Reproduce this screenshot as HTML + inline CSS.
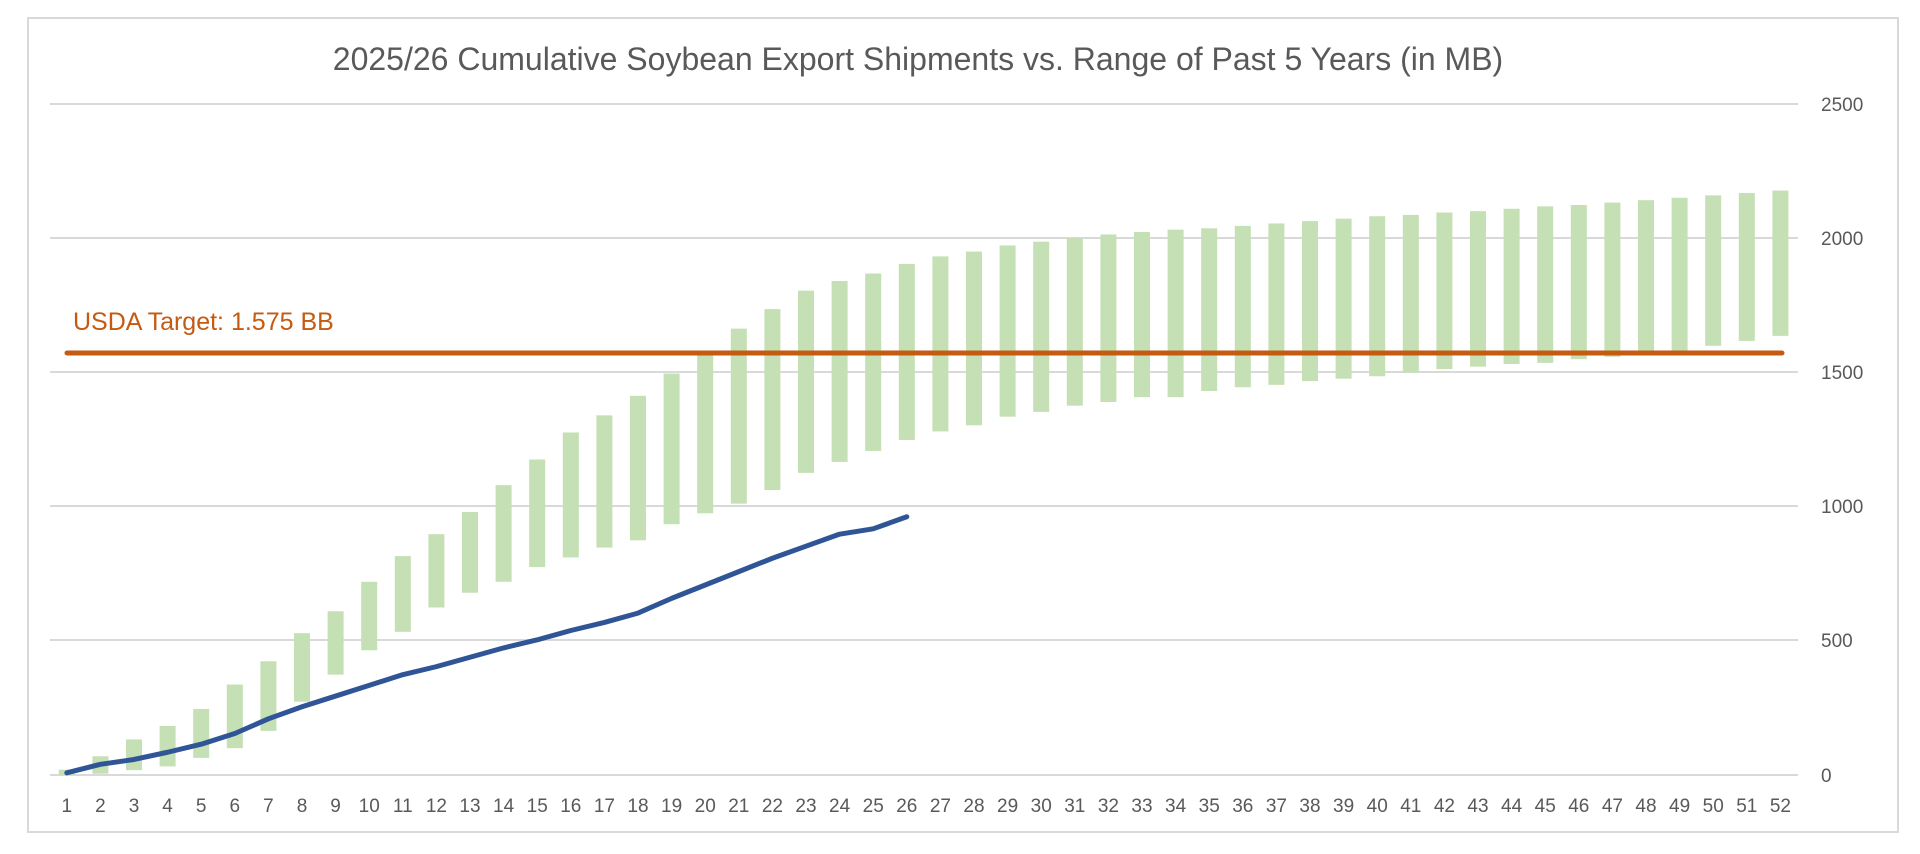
<!DOCTYPE html>
<html><head><meta charset="utf-8"><style>
html,body{margin:0;padding:0;background:#fff;width:1920px;height:854px;overflow:hidden}
</style></head><body>
<svg id="s" width="1920" height="854" xmlns="http://www.w3.org/2000/svg" font-family="Liberation Sans, sans-serif">
<rect x="28" y="18" width="1870" height="814" fill="#fff" stroke="#d9d9d9" stroke-width="2"/>
<text x="918" y="70" text-anchor="middle" font-size="32" fill="#595959">2025/26 Cumulative Soybean Export Shipments vs. Range of Past 5 Years (in MB)</text>
<g stroke="#d9d9d9" stroke-width="2">
<line x1="50" x2="1798" y1="104" y2="104"/><line x1="50" x2="1798" y1="238" y2="238"/>
<line x1="50" x2="1798" y1="372" y2="372"/><line x1="50" x2="1798" y1="506" y2="506"/>
<line x1="50" x2="1798" y1="640" y2="640"/><line x1="50" x2="1798" y1="775" y2="775"/>
</g>
<g font-size="19" fill="#595959">
<text x="1821" y="111">2500</text><text x="1821" y="245">2000</text><text x="1821" y="379">1500</text>
<text x="1821" y="513">1000</text><text x="1821" y="647">500</text><text x="1821" y="782">0</text>
</g>
<g id="bars" fill="#c5e0b4"></g>
<g id="xl" font-size="19" fill="#595959" text-anchor="middle"></g>
<line x1="67" x2="1782" y1="353" y2="353" stroke="#c55a11" stroke-width="5" stroke-linecap="round"/>
<text x="73" y="330" font-size="25" fill="#c55a11">USDA Target: 1.575 BB</text>
<polyline id="ln" fill="none" stroke="#2f5597" stroke-width="5" stroke-linejoin="round" stroke-linecap="round"/>
</svg>
<script>
var lo=[0,5,18,32,64,100,165,274,375,466,535,626,681,722,777,813,850,877,937,978,1014,1065,1129,1170,1211,1252,1284,1307,1339,1357,1380,1394,1412,1412,1435,1449,1458,1472,1481,1490,1504,1517,1526,1536,1540,1554,1563,1572,1586,1604,1622,1641];
var hi=[20,70,133,183,247,338,425,530,612,722,818,900,983,1083,1179,1280,1344,1417,1500,1572,1668,1741,1810,1846,1874,1910,1938,1956,1979,1993,2006,2020,2029,2038,2043,2052,2061,2070,2079,2088,2093,2102,2107,2116,2125,2130,2139,2148,2157,2166,2175,2184];
var ln=[8,40,58,85,115,155,210,255,295,335,375,405,440,475,505,540,570,605,660,710,760,810,855,900,920,965];
function Y(v){return 775-v*0.2676}function X(i){return 50+33.6*(i+0.5)}
var b='',t='',p=[];
for(var i=0;i<52;i++){b+='<rect x="'+(X(i)-8)+'" y="'+Y(hi[i])+'" width="16" height="'+((hi[i]-lo[i])*0.2676)+'"/>';
t+='<text x="'+X(i)+'" y="812">'+(i+1)+'</text>';}
for(var i=0;i<ln.length;i++)p.push(X(i)+','+Y(ln[i]));
document.getElementById('bars').innerHTML=b;document.getElementById('xl').innerHTML=t;
document.getElementById('ln').setAttribute('points',p.join(' '));
</script>
</body></html>
